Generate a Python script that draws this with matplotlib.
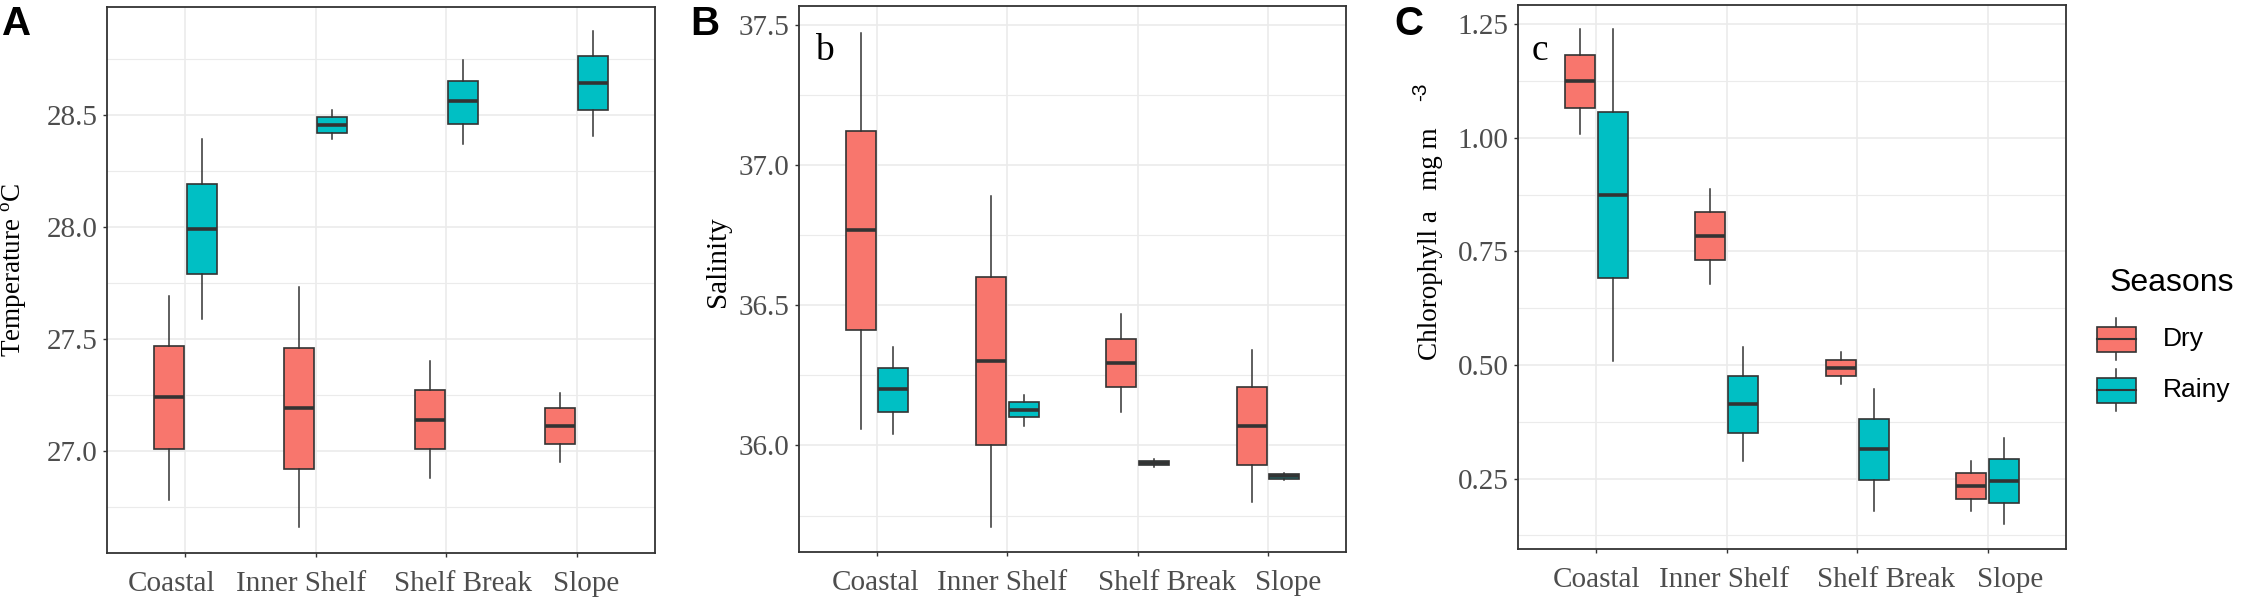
import matplotlib
matplotlib.use("Agg")
import matplotlib.pyplot as plt
from matplotlib.patches import Rectangle
from matplotlib.transforms import ScaledTranslation

plt.rcParams['font.family'] = ['Liberation Serif', 'DejaVu Serif']
plt.rcParams['mathtext.fontset'] = 'custom'
plt.rcParams['mathtext.rm'] = 'Liberation Serif'

sites = ['Coastal', 'Inner Shelf', 'Shelf Break', 'Slope']
seasons = ['Dry', 'Rainy']

# five-number summaries per site: [whisker low, Q1, median, Q3, whisker high]
temp_dry = [[26.78, 27.01, 27.24, 27.47, 27.69],
            [26.66, 26.92, 27.19, 27.46, 27.73],
            [26.88, 27.01, 27.14, 27.27, 27.40],
            [26.95, 27.03, 27.11, 27.19, 27.26]]
temp_rainy = [[27.59, 27.79, 27.99, 28.19, 28.39],
              [28.39, 28.42, 28.455, 28.49, 28.52],
              [28.37, 28.46, 28.56, 28.65, 28.745],
              [28.405, 28.52, 28.64, 28.76, 28.875]]

sal_dry = [[36.06, 36.41, 36.77, 37.12, 37.47],
           [35.71, 36.00, 36.30, 36.60, 36.89],
           [36.12, 36.21, 36.295, 36.38, 36.47],
           [35.80, 35.93, 36.07, 36.21, 36.34]]
sal_rainy = [[36.04, 36.12, 36.20, 36.275, 36.35],
             [36.07, 36.10, 36.126, 36.155, 36.18],
             [35.922, 35.929, 35.937, 35.945, 35.952],
             [35.876, 35.882, 35.890, 35.898, 35.903]]

chl_dry = [[1.009, 1.066, 1.124, 1.181, 1.239],
           [0.679, 0.731, 0.784, 0.836, 0.887],
           [0.459, 0.476, 0.494, 0.511, 0.529],
           [0.179, 0.206, 0.234, 0.262, 0.289]]
chl_rainy = [[0.508, 0.692, 0.874, 1.056, 1.239],
             [0.289, 0.351, 0.415, 0.476, 0.539],
             [0.179, 0.246, 0.315, 0.382, 0.448],
             [0.150, 0.196, 0.245, 0.292, 0.339]]

colors = {'Dry': '#F8766D', 'Rainy': '#00BFC4'}
edge = '#333333'
grid_c = '#EBEBEB'
tick_c = '#4D4D4D'

W, H = 2241, 603
fig = plt.figure(figsize=(W / 100, H / 100), dpi=100)


def px_axes(left, right, top, bottom):
    return fig.add_axes([left / W, 1 - bottom / H, (right - left) / W, (bottom - top) / H])


def stats(summary, label):
    out = []
    for lo, q1, med, q3, hi in summary:
        out.append({'whislo': lo, 'q1': q1, 'med': med, 'q3': q3, 'whishi': hi, 'label': label})
    return out


def draw_panel(ax, dry, rainy, ylim, yticks, ylabels, minor, label_shift):
    ax.set_facecolor('white')
    for ytk in yticks + minor:
        ax.axhline(ytk, color=grid_c, lw=1.2 if ytk in yticks else 0.8, zorder=0)
    for i in range(len(sites)):
        ax.axvline(i + 1, color=grid_c, lw=1.2, zorder=0)
    for data, off, name in [(dry, -0.125, 'Dry'), (rainy, 0.125, 'Rainy')]:
        pos = [i + 1 + off for i in range(len(data))]
        ax.bxp(stats(data, name), positions=pos, widths=0.23, patch_artist=True,
               showcaps=False, showfliers=False,
               boxprops=dict(facecolor=colors[name], edgecolor=edge, lw=1.2),
               whiskerprops=dict(color=edge, lw=1.1),
               medianprops=dict(color=edge, lw=2.6, solid_capstyle='butt'),
               zorder=3)
    ax.set_xlim(0.4, 4.6)
    ax.set_ylim(*ylim)
    ax.set_xticks(range(1, len(sites) + 1))
    ax.set_xticklabels(sites)
    ax.set_yticks(yticks)
    ax.set_yticklabels(ylabels)
    ax.tick_params(axis='both', colors=edge, labelcolor=tick_c, labelsize=21,
                   length=3, width=1.0, pad=4)
    ax.tick_params(axis='x', pad=10)
    # the x labels sit a little off their ticks in the original
    for lab, dx in zip(ax.get_xticklabels(), label_shift):
        lab.set_transform(lab.get_transform() + ScaledTranslation(dx / 100, 0, fig.dpi_scale_trans))
    for s in ax.spines.values():
        s.set_color(edge)
        s.set_linewidth(1.3)


axA = px_axes(107, 655, 7, 553)
draw_panel(axA, temp_dry, temp_rainy, (26.545, 28.98),
           [27.0, 27.5, 28.0, 28.5], ['27.0', '27.5', '28.0', '28.5'],
           [26.75, 27.25, 27.75, 28.25, 28.75], [-14, -15, 17, 9])
axA.text(-0.169, 0.518, 'Temperature $^{\\mathrm{o}}$C', transform=axA.transAxes,
         fontsize=19.5, rotation=90, ha='center', va='center')

axB = px_axes(799, 1346, 6, 552)
draw_panel(axB, sal_dry, sal_rainy, (35.62, 37.567),
           [36.0, 36.5, 37.0, 37.5], ['36.0', '36.5', '37.0', '37.5'],
           [35.75, 36.25, 36.75, 37.25], [-2, -5, 29, 20])
axB.text(-0.148, 0.531, 'Salinity', transform=axB.transAxes, fontsize=21,
         rotation=90, ha='center', va='center')
axB.text(0.03, 0.949, 'b', transform=axB.transAxes, fontsize=27, va='top', ha='left')

axC = px_axes(1518, 2066, 5, 549)
draw_panel(axC, chl_dry, chl_rainy, (0.095, 1.292),
           [0.25, 0.5, 0.75, 1.0, 1.25], ['0.25', '0.50', '0.75', '1.00', '1.25'],
           [0.125, 0.375, 0.625, 0.875, 1.125], [0, -3, 29, 22])
axC.text(-0.16, 0.562, 'Chlorophyll a   mg m', transform=axC.transAxes, fontsize=19.5,
         rotation=90, ha='center', va='center')
axC.text(-0.178, 0.84, '-3', transform=axC.transAxes, fontsize=15,
         rotation=90, ha='center', va='center', family=['Liberation Sans'])
axC.text(0.025, 0.948, 'c', transform=axC.transAxes, fontsize=27, va='top', ha='left')

# panel letters
for letter, x in [('A', 2), ('B', 690), ('C', 1394)]:
    fig.text(x / W, 1 - 5 / H, letter, fontsize=29, fontweight='bold', va='top', ha='left',
             family=['Liberation Sans'])

# legend drawn by hand in pixel coordinates
lg = px_axes(2080, 2241, 250, 430)
lg.set_xlim(2080, 2241)
lg.set_ylim(430, 250)
lg.axis('off')
lg.text(2110, 283, 'Seasons', fontsize=23, va='center', ha='left', family=['Liberation Sans'])
for name, yc in [('Dry', 339.5), ('Rainy', 390.5)]:
    lg.plot([2116.5, 2116.5], [yc - 21, yc + 21], color=edge, lw=1.1)
    lg.add_patch(Rectangle((2097, yc - 12.5), 39, 25, facecolor=colors[name], edgecolor=edge, lw=1.2, zorder=3))
    lg.plot([2097, 2136], [yc, yc], color=edge, lw=1.5, zorder=4)
    lg.text(2163, yc, name, fontsize=19, va='center', ha='left', family=['Liberation Sans'])

fig.savefig('out.png', dpi=100, facecolor='white')
